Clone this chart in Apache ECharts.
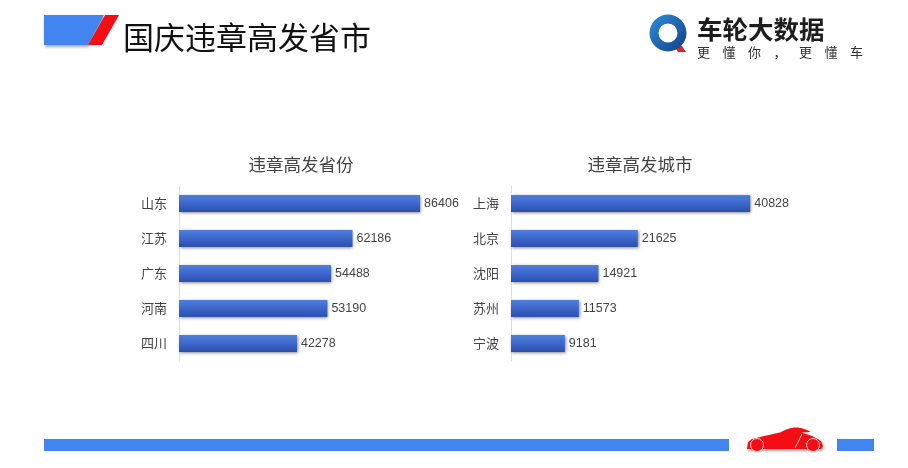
<!DOCTYPE html>
<html>
<head>
<meta charset="utf-8">
<script src="https://cdn.jsdelivr.net/npm/echarts@6/dist/echarts.min.js"></script>
<style>
  html, body { margin: 0; padding: 0; background: #fff; }
  #chart { width: 908px; height: 468px; }
</style>
</head>
<body>
<div id="chart"></div>
<script>
const provinces = ["山东", "江苏", "广东", "河南", "四川"];
const provinceValues = [86406, 62186, 54488, 53190, 42278];
const cities = ["上海", "北京", "沈阳", "苏州", "宁波"];
const cityValues = [40828, 21625, 14921, 11573, 9181];
const pageTitle = "国庆违章高发省市";
const chartTitles = ["违章高发省份", "违章高发城市"];
const logoName = "车轮大数据";
const logoSlogan = ["更", "懂", "你", "，", "更", "懂", "车"];

const cjk = '"Noto Sans CJK SC", sans-serif';
const latin = '"Liberation Sans", sans-serif';
const barGradient = new echarts.graphic.LinearGradient(0, 0, 0, 1, [
  { offset: 0, color: "#4f7fdc" },
  { offset: 0.5, color: "#3c66cb" },
  { offset: 1, color: "#2b50ad" },
]);

function barSeries(values, index) {
  return {
    type: "bar",
    xAxisIndex: index,
    yAxisIndex: index,
    data: values,
    barWidth: 17,
    silent: true,
    itemStyle: {
      color: barGradient,
      shadowColor: "rgba(0,0,0,0.45)",
      shadowBlur: 3,
      shadowOffsetX: 1,
      shadowOffsetY: 1,
    },
    label: {
      show: true,
      position: "right",
      distance: 4,
      color: "#444",
      fontFamily: latin,
      fontSize: 12.5,
    },
  };
}

function categoryAxis(names, index) {
  return {
    type: "category",
    gridIndex: index,
    data: names,
    inverse: true,
    axisTick: { show: false },
    axisLine: { lineStyle: { color: "#ddd" } },
    axisLabel: { color: "#444", fontFamily: cjk, fontSize: 13, margin: 12 },
  };
}

function valueAxis(max, index) {
  return { type: "value", gridIndex: index, min: 0, max: max, show: false };
}

function chartTitle(text, centerX) {
  return {
    text: text,
    left: centerX,
    top: 164,
    padding: 0,
    textAlign: "center",
    textVerticalAlign: "middle",
    textStyle: { color: "#444", fontFamily: cjk, fontSize: 17.5, fontWeight: "normal" },
  };
}

const shadow = { shadowColor: "rgba(0,0,0,0.35)", shadowBlur: 3, shadowOffsetX: 1, shadowOffsetY: 2 };

// header, logo and footer decoration
const decoration = [
  { type: "polygon", shape: { points: [[44, 15], [104, 15], [88, 45], [44, 45]] }, style: { fill: "#4285f0", ...shadow } },
  { type: "polygon", shape: { points: [[105, 15], [119, 15], [102, 45], [88, 45]] }, style: { fill: "#f40d12" } },
  { type: "text", style: { x: 123, y: 37, text: pageTitle, fill: "#111", font: "31px " + cjk, textVerticalAlign: "middle" } },

  { type: "polygon", shape: { points: [[674, 46], [682, 46], [686, 52], [678, 52]] }, style: { fill: "#e0262c" } },
  { type: "ring", shape: { cx: 668, cy: 33, r: 18.5, r0: 9.5 }, style: { fill: new echarts.graphic.LinearGradient(0, 0, 1, 1, [
    { offset: 0, color: "#2f8fd8" },
    { offset: 1, color: "#123f86" },
  ]) } },
  { type: "text", style: { x: 697, y: 29, text: logoName, fill: "#1d1d1d", font: "bold 25.5px " + cjk, textVerticalAlign: "middle", ...shadow } },
  ...logoSlogan.map((ch, i) => ({
    type: "text",
    style: { x: 697 + i * 25.5, y: 52, text: ch, fill: "#333", font: "13px " + cjk, textVerticalAlign: "middle" },
  })),

  { type: "rect", shape: { x: 44, y: 439, width: 685, height: 12 }, style: { fill: "#4285f0" } },
  { type: "rect", shape: { x: 837, y: 439, width: 37, height: 12 }, style: { fill: "#4285f0" } },
  { type: "polygon", shape: { points: [[782, 432], [788, 429], [796, 427.5], [804, 429], [810, 432]], smooth: 0.4 }, style: { fill: "#f40d12" } },
  { type: "polygon", shape: { points: [[747, 449], [748, 442], [752, 439], [760, 437], [782, 432], [800, 432], [812, 436], [821, 441], [823, 446], [821, 449]] }, style: { fill: "#f40d12", ...shadow } },
  { type: "circle", shape: { cx: 757, cy: 445, r: 6.5 }, style: { fill: "#f40d12", stroke: "#f7d0d0", lineWidth: 1 } },
  { type: "circle", shape: { cx: 813, cy: 445, r: 6.5 }, style: { fill: "#f40d12", stroke: "#f7d0d0", lineWidth: 1 } },
  { type: "line", shape: { x1: 802, y1: 434, x2: 795, y2: 448 }, style: { stroke: "#f7d0d0", lineWidth: 1 } },
];

const chart = echarts.init(document.getElementById("chart"));
chart.setOption({
  animation: false,
  backgroundColor: "#fff",
  title: [chartTitle(chartTitles[0], 301), chartTitle(chartTitles[1], 640)],
  grid: [
    { left: 179, top: 186, width: 279, height: 175 },
    { left: 511, top: 186, width: 293, height: 175 },
  ],
  xAxis: [valueAxis(100000, 0), valueAxis(50000, 1)],
  yAxis: [categoryAxis(provinces, 0), categoryAxis(cities, 1)],
  series: [barSeries(provinceValues, 0), barSeries(cityValues, 1)],
  graphic: { elements: decoration },
});
</script>
</body>
</html>
